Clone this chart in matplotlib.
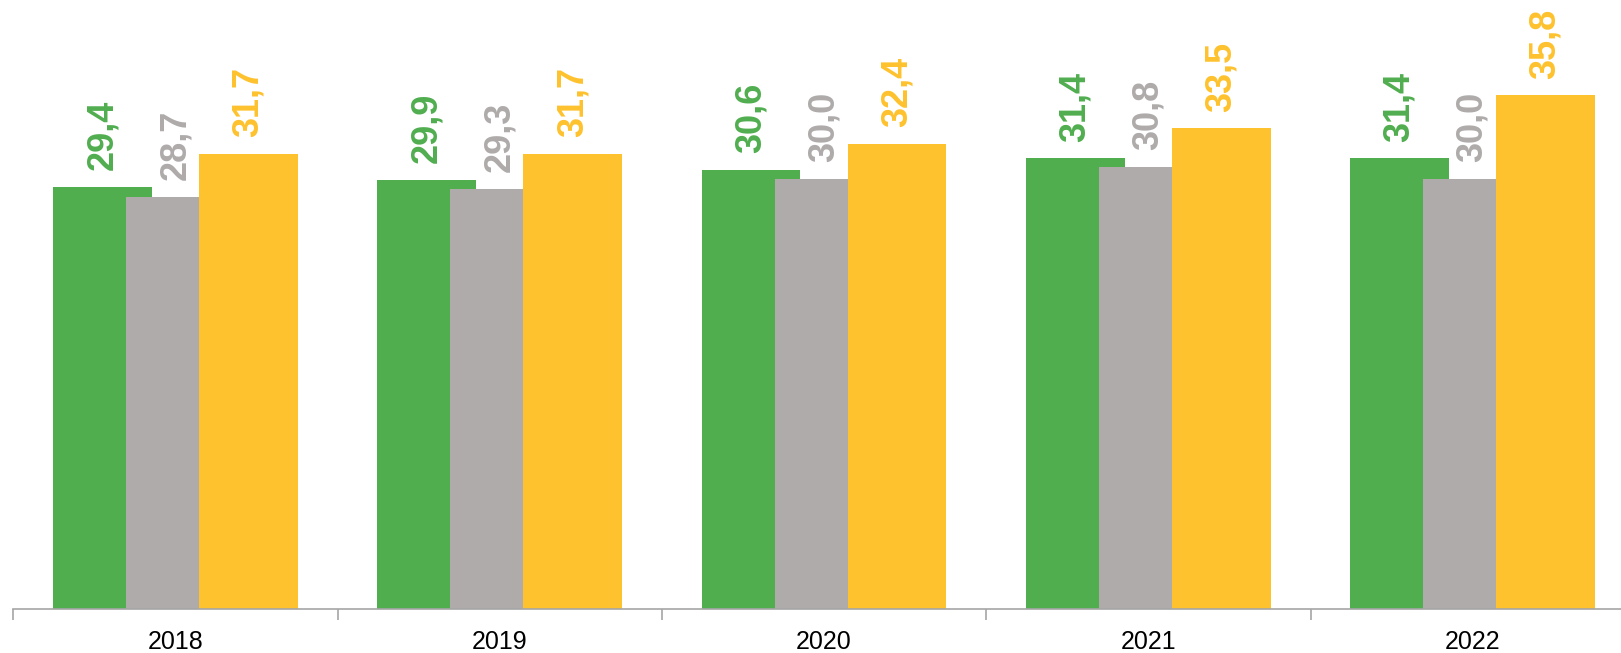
import matplotlib
matplotlib.use('Agg')
import matplotlib.pyplot as plt
import numpy as np

# Données
annees = ['2018', '2019', '2020', '2021', '2022']
serie_verte = [29.4, 29.9, 30.6, 31.4, 31.4]
serie_grise = [28.7, 29.3, 30.0, 30.8, 30.0]
serie_jaune = [31.7, 31.7, 32.4, 33.5, 35.8]

vert = '#50AE4F'
gris = '#AEABAA'
jaune = '#FEC22E'

plt.rcParams['font.family'] = ['Liberation Sans', 'DejaVu Sans']

fig = plt.figure(figsize=(16.21, 6.53), dpi=100)
gauche = 13.3 / 1621
bas = 44 / 653
ax = fig.add_axes([gauche, bas, 1 - gauche, 609 / 653])

x = np.arange(len(annees))
largeur = 0.304
decalage = 0.225

for valeurs, couleur, dx in [(serie_verte, vert, -decalage),
                             (serie_grise, gris, 0),
                             (serie_jaune, jaune, decalage)]:
    ax.bar(x + dx, valeurs, width=largeur, color=couleur, zorder=2)
    for xi, v in zip(x + dx, valeurs):
        ax.annotate(f'{v:.1f}'.replace('.', ','), (xi, v), xytext=(0, 12),
                    textcoords='offset points', rotation=90, ha='center',
                    va='bottom', color=couleur, fontsize=26, fontweight='bold')

for cote in ['left', 'right', 'top']:
    ax.spines[cote].set_visible(False)
ax.spines['bottom'].set_color('#A6A6A6')
ax.spines['bottom'].set_linewidth(1.2)
ax.set_yticks([])

ax.set_xticks(x)
ax.set_xticklabels(annees, fontsize=18)
ax.tick_params(axis='x', which='major', length=0, pad=15)
ax.set_xticks(np.arange(-0.5, len(annees), 1), minor=True)
ax.tick_params(axis='x', which='minor', length=8, color='#A6A6A6', width=1.2)

# limites fixées après les ticks (set_xticks élargit la vue)
ax.set_xlim(-0.5, -0.5 + (1621 - 13.3) / 324.3)
ax.set_ylim(0, 609 / 14.35)

fig.savefig('out.png', dpi=100)
